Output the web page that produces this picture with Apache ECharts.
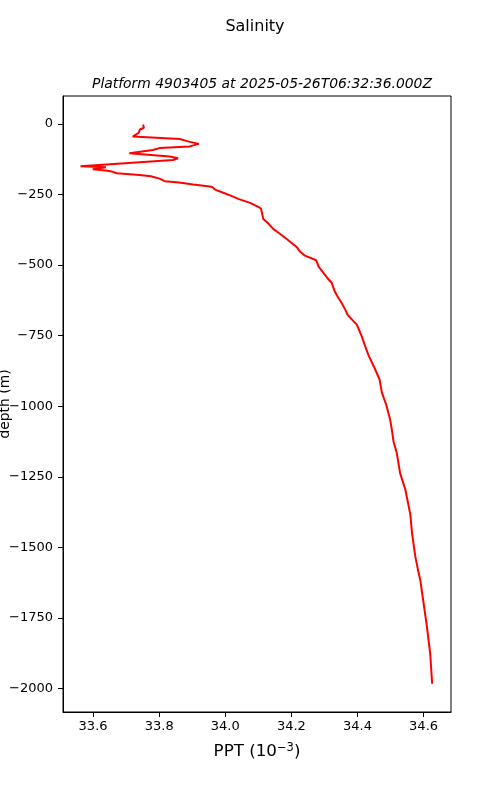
<!DOCTYPE html>
<html>
<head>
<meta charset="utf-8">
<script src="https://cdn.jsdelivr.net/npm/echarts@6/dist/echarts.min.js"></script>
<style>
html,body{margin:0;padding:0;background:#fff;}
#chart{width:500px;height:800px;}
</style>
</head>
<body>
<div id="chart"></div>
<script>
// Salinity profile (PPT) vs depth (m)
const depth = [-3,-14,-20,-32,-45,-48,-54,-63,-71,-80,-86,-93,-104,-110,-116,-122,-128,-150,-154,-161,-165,-170,-175,-181,-186,-194,-203,-208,-215,-223,-233,-245,-256,-266,-280,-294,-300,-310,-337,-355,-372,-386,-408,-436,-451,-467,-483,-505,-528,-545,-563,-590,-608,-630,-658,-676,-695,-711,-753,-790,-818,-871,-906,-953,-995,-1048,-1083,-1125,-1166,-1237,-1296,-1384,-1449,-1532,-1591,-1615,-1697,-1780,-1875,-1983];
const salinity = [33.751,33.754,33.742,33.738,33.720,33.722,33.862,33.890,33.920,33.892,33.801,33.781,33.710,33.712,33.832,33.857,33.842,33.562,33.639,33.599,33.639,33.660,33.672,33.740,33.775,33.801,33.817,33.860,33.903,33.959,33.969,33.996,34.020,34.039,34.075,34.100,34.108,34.110,34.115,34.132,34.145,34.161,34.186,34.216,34.225,34.241,34.275,34.282,34.297,34.308,34.322,34.330,34.338,34.350,34.363,34.370,34.385,34.398,34.413,34.424,34.433,34.454,34.467,34.474,34.487,34.499,34.504,34.509,34.519,34.529,34.545,34.560,34.565,34.575,34.585,34.590,34.600,34.610,34.620,34.626];
const xTicks = [33.6,33.8,34.0,34.2,34.4,34.6];
const yTicks = [0,-250,-500,-750,-1000,-1250,-1500,-1750,-2000];

const FONT = 'DejaVu Sans';
const chart = echarts.init(document.getElementById('chart'), null, {renderer:'canvas'});
const pts = depth.map((d,i)=>[salinity[i], d]);
chart.setOption({
  animation:false,
  backgroundColor:'#fff',
  title:[
    {text:'Salinity', left:250, textAlign:'center', top:14,
     textStyle:{fontFamily:FONT, fontSize:16, fontWeight:'normal', color:'#000'}},
    {text:'Platform 4903405 at 2025-05-26T06:32:36.000Z', left:257, textAlign:'center', top:72,
     textStyle:{fontFamily:FONT, fontSize:13.9, fontStyle:'italic', fontWeight:'normal', color:'#000'}}
  ],
  grid:{left:63, right:49, top:96, bottom:88, show:true, borderColor:'#000', borderWidth:1,
        containLabel:false, outerBoundsMode:'none'},
  xAxis:{
    type:'value', min:33.509, max:34.683,
    name:'{a|PPT (10}{s|−3}{a|)}', nameLocation:'middle', nameGap:30, nameMoveOverlap:false,
    nameTextStyle:{rich:{a:{fontFamily:FONT,fontSize:16.7,color:'#000'},s:{fontFamily:FONT,fontSize:11.5,color:'#000',verticalAlign:'top',padding:[0,0,8,0]}}},
    axisLine:{show:true, onZero:false, lineStyle:{color:'#000',width:1}},
    axisTick:{show:true, length:5, lineStyle:{color:'#000'}, customValues:xTicks},
    axisLabel:{fontFamily:FONT, fontSize:13, color:'#000', margin:8, customValues:xTicks,
      formatter:v=>v.toFixed(1)},
    splitLine:{show:false}
  },
  yAxis:{
    type:'value', min:-2083, max:98.5,
    name:'depth (m)', nameLocation:'middle', nameGap:51, nameMoveOverlap:false,
    nameTextStyle:{fontFamily:FONT, fontSize:13.9, color:'#000'},
    axisLine:{show:true, onZero:false, lineStyle:{color:'#000',width:1}},
    axisTick:{show:true, length:5, lineStyle:{color:'#000'}, customValues:yTicks},
    axisLabel:{fontFamily:FONT, fontSize:13, color:'#000', margin:10, customValues:yTicks,
      formatter:v=>String(v).replace('-','−')},
    splitLine:{show:false}
  },
  series:[{
    type:'line', data:pts, showSymbol:false, symbol:'none',
    lineStyle:{color:'#ff0000', width:2}, smooth:false, clip:true
  }]
});
</script>
</body>
</html>
